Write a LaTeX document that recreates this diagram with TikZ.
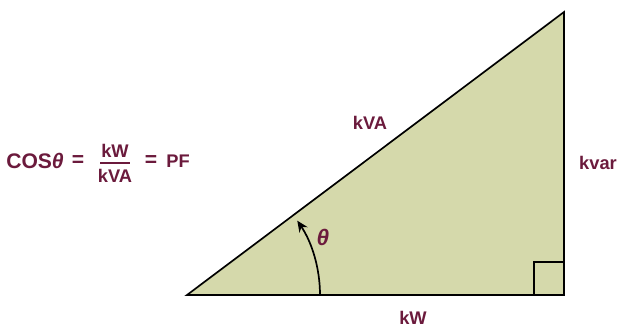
\documentclass[tikz,border=0pt]{standalone}
\usepackage{fontspec}
\setmainfont{Liberation Sans}
\usetikzlibrary{arrows.meta,positioning,calc}
\definecolor{pfFill}{HTML}{D5D9AB}
\definecolor{pfText}{HTML}{6B1A3C}

\begin{document}
\begin{tikzpicture}[
    x=0.025cm,y=-0.025cm,
    lbl/.style={font=\bfseries\fontsize{13}{15}\selectfont,text=pfText,inner sep=0pt},
    big/.style={lbl,font=\bfseries\fontsize{15}{17}\selectfont},
    side/.style={draw=black,line width=1.2pt,line join=miter},
    arr/.style={-{Stealth[length=8pt,width=7pt]},line width=1.2pt}
]
\useasboundingbox (0,0) rectangle (619,327);

% corners of the power triangle
\coordinate (A) at (187,295);
\coordinate (B) at (564,295);
\coordinate (C) at (564,12);
\filldraw[side,fill=pfFill] (A) -- (B) -- (C) -- cycle;

% right angle mark
\draw[side] ($(B)+(-30,0)$) |- ($(B)+(0,-33)$);

% angle arc with arrow (y axis points down, so the angle is negative)
\draw[arr] ($(A)+(133,0)$) arc[start angle=0,end angle=-34,radius=133];

% side labels
\node[lbl] (kva) at (370,123) {kVA};
\node[lbl] (kvar) at (598,163) {kvar};
\node[lbl] (kw) at (413,318) {kW};
\node[lbl,font=\bfseries\itshape\fontsize{16}{18}\selectfont] (th) at (323,237) {θ};

% power factor formula
\node[big,anchor=west] (cos) at (6,161) {COS\textit{θ}};
\node[big] (eqA) at (78,161) {=};
\node[lbl] (num) at (115,151) {kW};
\node[lbl] (den) at (115,176) {kVA};
\coordinate (barL) at (100,163);
\coordinate (barR) at (130,163);
\draw[pfText,line width=1.5pt] (barL) -- (barR);
\node[big] (eqB) at (151,161) {=};
\node[lbl] (pf) at (178,161) {PF};
\end{tikzpicture}
\end{document}
